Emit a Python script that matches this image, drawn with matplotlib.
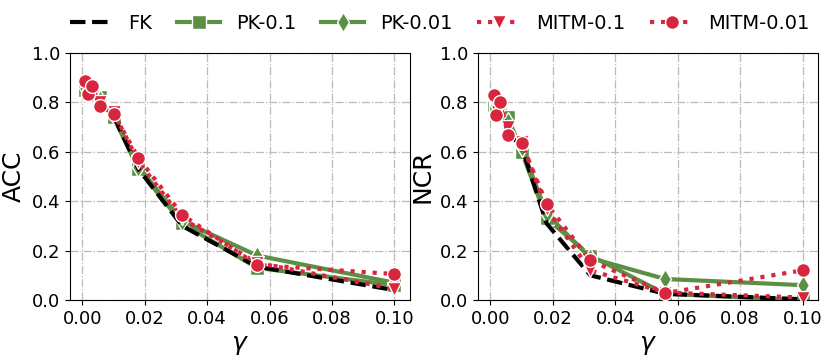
import matplotlib
matplotlib.use("Agg")
import matplotlib.pyplot as plt

# gamma values (log spaced)
gamma = [0.001, 0.0018, 0.0032, 0.0056, 0.01, 0.018, 0.032, 0.056, 0.1]

# ACC
acc_fk = [0.87, 0.87, 0.85, 0.80, 0.745, 0.53, 0.30, 0.135, 0.04]
acc_pk01 = [0.85, 0.84, 0.83, 0.82, 0.74, 0.53, 0.31, 0.13, 0.06]
acc_pk001 = [0.86, 0.85, 0.84, 0.81, 0.75, 0.54, 0.32, 0.18, 0.07]
acc_mitm01 = [0.87, 0.86, 0.85, 0.80, 0.76, 0.56, 0.33, 0.15, 0.045]
acc_mitm001 = [0.885, 0.835, 0.865, 0.785, 0.755, 0.575, 0.345, 0.142, 0.105]

# NCR
ncr_fk = [0.80, 0.80, 0.78, 0.68, 0.62, 0.31, 0.10, 0.025, 0.003]
ncr_pk01 = [0.79, 0.78, 0.77, 0.74, 0.60, 0.33, 0.18, 0.025, 0.0]
ncr_pk001 = [0.81, 0.79, 0.78, 0.72, 0.62, 0.35, 0.17, 0.085, 0.06]
ncr_mitm01 = [0.80, 0.79, 0.78, 0.70, 0.64, 0.37, 0.12, 0.03, 0.01]
ncr_mitm001 = [0.83, 0.75, 0.80, 0.67, 0.635, 0.39, 0.16, 0.028, 0.12]

GREEN = '#5b8f44'
RED = '#d7263d'

# label, colour, linestyle, marker, zorder
styles = [
    ("FK", 'black', '--', None, 4),
    ("PK-0.1", GREEN, '-', 's', 2),
    ("PK-0.01", GREEN, '-', 'd', 3),
    ("MITM-0.1", RED, ':', 'v', 5),
    ("MITM-0.01", RED, ':', 'o', 6),
]

fig = plt.figure(figsize=(8.3, 3.6), dpi=100)
ax1 = fig.add_axes([0.0843, 0.1667, 0.4096, 0.686])
ax2 = fig.add_axes([0.576, 0.1667, 0.4096, 0.686])

panels = [
    (ax1, "ACC", [acc_fk, acc_pk01, acc_pk001, acc_mitm01, acc_mitm001]),
    (ax2, "NCR", [ncr_fk, ncr_pk01, ncr_pk001, ncr_mitm01, ncr_mitm001]),
]

for ax, name, series in panels:
    for (label, color, ls, marker, z), vals in zip(styles, series):
        ax.plot(gamma, vals, label=label, color=color, linestyle=ls,
                marker=marker, linewidth=3, markersize=10, zorder=z,
                markeredgecolor='white', markeredgewidth=1)
    ax.set_ylim(0, 1.0)
    ax.set_xticks([0.0, 0.02, 0.04, 0.06, 0.08, 0.10])
    ax.set_yticks([0.0, 0.2, 0.4, 0.6, 0.8, 1.0])
    ax.tick_params(labelsize=13)
    ax.set_ylabel(name, fontsize=18)
    ax.set_xlabel(r'$\gamma$', fontsize=18)
    ax.grid(True, linestyle='-.', color='#bbbbbb', linewidth=0.9)

handles, labels = ax1.get_legend_handles_labels()
fig.legend(handles, labels, loc='upper center', ncol=5, frameon=False,
           fontsize=14, bbox_to_anchor=(0.53, 1.01), handlelength=2.2,
           columnspacing=1.3, handletextpad=0.8)

fig.savefig("out.png", dpi=100)
